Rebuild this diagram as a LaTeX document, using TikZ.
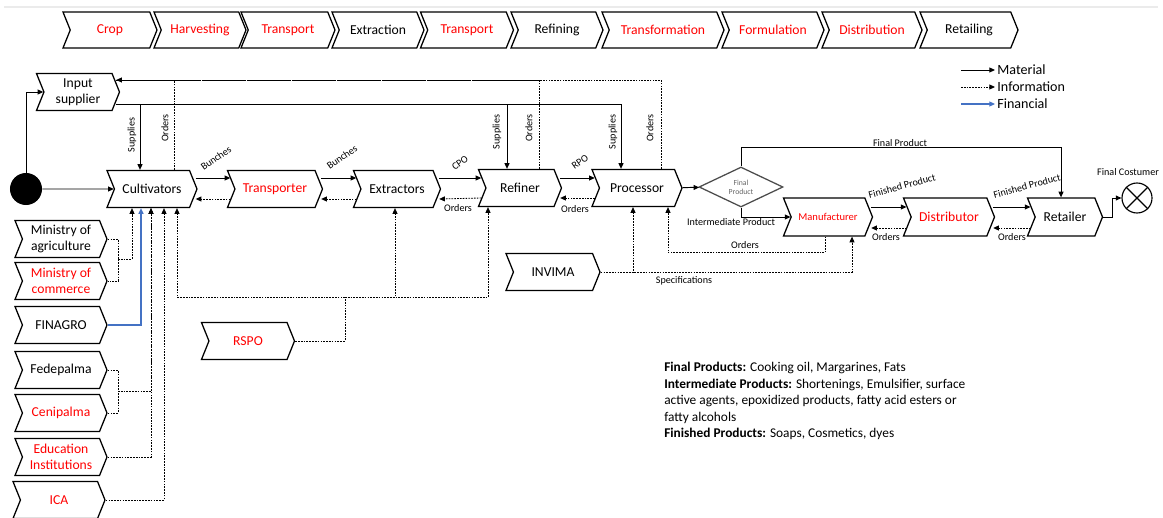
\documentclass[tikz,border=0pt]{standalone}
\usepackage{fontspec}
\setmainfont{Carlito}
\usepackage{xcolor}
\usepackage{tikz}
\usetikzlibrary{shapes.symbols,shapes.geometric,arrows.meta,calc}
\definecolor{finblue}{RGB}{68,114,196}
\tikzset{chev/.style={signal,draw,signal from=west,signal to=east,signal pointer angle=136,line width=0.9pt,minimum height=0.925cm,inner sep=1pt,font=\fontsize{9.7}{11}\selectfont,align=center},
			lbl/.style={font=\fontsize{7.2}{8}\selectfont,inner sep=0.5pt},
			mat/.style={-{Triangle[length=4pt,width=3.5pt]},line width=0.7pt},
			info/.style={-{Triangle[length=4pt,width=3.5pt]},line width=0.6pt,dash pattern=on 1.2pt off 0.8pt},
			fin/.style={-{Triangle[length=4pt,width=3.5pt]},line width=0.8pt,finblue},
            }

\begin{document}
\begin{tikzpicture}[x=0.025cm,y=-0.025cm]
					\useasboundingbox (0,0) rectangle (1163,518);
					\draw[black!8,line width=1.2pt] (4,7) -- (1158,7);
					
					\node[chev,minimum width=2.35cm,minimum height=0.9cm,text=red] (S1) at (110,30) {Crop};
					\node[chev,minimum width=2.3cm,minimum height=0.9cm,text=red] (S2) at (200,30) {Harvesting};
					\node[chev,minimum width=2.35cm,minimum height=0.9cm,text=red] (S3) at (288,30) {Transport};
					\node[chev,minimum width=2.3cm,minimum height=0.9cm] (S4) at (378,30) {Extraction};
					\node[chev,minimum width=2.325cm,minimum height=0.9cm,text=red] (S5) at (467,30) {Transport};
					\node[chev,minimum width=2.3cm,minimum height=0.9cm] (S6) at (557,30) {Refining};
					\node[chev,minimum width=3.05cm,minimum height=0.9cm,text=red] (S7) at (663,30) {Transformation};
					\node[chev,minimum width=2.55cm,minimum height=0.9cm,text=red] (S8) at (773,30) {Formulation};
					\node[chev,minimum width=2.5cm,minimum height=0.9cm,text=red] (S9) at (872,30) {Distribution};
					\node[chev,minimum width=2.45cm,minimum height=0.9cm] (S10) at (969,30) {Retailing};
					
					\node[circle,fill=black,minimum size=0.8cm] (St) at (26,189) {};
					\node[chev,minimum width=2.075cm] (Inp) at (78,92) {Input\\supplier};
					\node[chev,minimum width=2.25cm] (Cult) at (152,189) {Cultivators};
					\node[chev,minimum width=2.375cm,text=red] (Trans) at (275,189) {Transporter};
					\node[chev,minimum width=2.175cm] (Extr) at (397,189) {Extractors};
					\node[chev,minimum width=2.075cm] (Ref) at (520,188) {Refiner};
					\node[chev,minimum width=2.25cm] (Proc) at (637,188) {Processor};
					\node[diamond,draw=black!70,line width=0.9pt,minimum width=2.1cm,minimum height=1cm,inner sep=0pt,text=black!60,font=\fontsize{5.5}{6.5}\selectfont,align=center] (FP) at (741,187) {Final\\Product};
					\node[chev,minimum width=2.225cm,minimum height=0.95cm,text=red,font=\fontsize{7.5}{8}\selectfont] (Man) at (828,217) {Manufacturer};
					\node[chev,minimum width=2.275cm,minimum height=0.95cm,text=red] (Dist) at (949,217) {Distributor};
					\node[chev,minimum width=1.875cm,minimum height=0.95cm] (Ret) at (1065,217) {Retailer};
					\node[circle,draw,line width=0.8pt,minimum size=0.75cm] (FC) at (1137,198) {};
					\draw[line width=0.8pt] (FC.45) -- (FC.225) (FC.135) -- (FC.315);
					\node[lbl] (FCl) at (1128,172) {Final Costumer};
					
					\node[chev,minimum width=2.3cm] (MA) at (61,239) {Ministry of\\agriculture};
					\node[chev,minimum width=2.3cm,text=red] (MC) at (61,281) {Ministry of\\commerce};
					\node[chev,minimum width=2.3cm] (FIN) at (61,325) {FINAGRO};
					\node[chev,minimum width=2.3cm] (FED) at (61,370) {Fedepalma};
					\node[chev,minimum width=2.3cm,text=red] (CEN) at (61,413) {Cenipalma};
					\node[chev,minimum width=2.3cm,text=red] (EDU) at (61,457) {Education\\Institutions};
					\node[chev,minimum width=2.3cm,text=red] (ICA) at (59,500) {ICA};
					\node[chev,minimum width=2.325cm,text=red] (RSPO) at (248,341) {RSPO};
					\node[chev,minimum width=2.35cm] (INV) at (553,272) {INVIMA};
					
					\coordinate (K1) at ($(Inp.east)+(-4,12)$);
					\coordinate (K2) at ($(Inp.east)+(-4,-12)$);
					\coordinate (K3) at (345,297);
					\coordinate (K4) at (118,259);
					\coordinate (K5) at (118,391);
					
					\draw[mat] (St) |- (Inp);
					\draw[mat] (St) -- (Cult);
					\draw[mat] (K1) -| ($(Cult.north)+(-12,0)$);
					\draw[mat] (K1) -| ($(Ref.north)+(-13,0)$);
					\draw[mat] (K1) -| ($(Proc.north)+(-16,0)$);
					\draw[info] ($(Proc.north)+(24,0)$) |- (K2);
					\draw[info,-] ($(Cult.north)+(22,0)$) |- (K2);
					\draw[info,-] ($(Ref.north)+(19,0)$) |- (K2);
					\node[lbl,rotate=90] (l1) at (132,135) {Supplies};
					\node[lbl,rotate=90] (l2) at (165,128) {Orders};
					\node[lbl,rotate=90] (l3) at (497,132) {Supplies};
					\node[lbl,rotate=90] (l4) at (529,128) {Orders};
					\node[lbl,rotate=90] (l5) at (613,132) {Supplies};
					\node[lbl,rotate=90] (l6) at (650,128) {Orders};
					
					\draw[mat] ($(Cult.east)+(-2,-11)$) -- ($(Trans.west)+(-4,-11)$);
					\draw[info] ($(Trans.west)+(-4,10)$) -- ($(Cult.east)+(-2,10)$);
					\draw[mat] ($(Trans.east)+(-2,-11)$) -- ($(Extr.west)+(-4,-11)$);
					\draw[info] ($(Extr.west)+(-4,10)$) -- ($(Trans.east)+(-2,10)$);
					\draw[mat] ($(Extr.east)+(-2,-11)$) -- ($(Ref.west)+(-4,-10)$);
					\draw[info] ($(Ref.west)+(-4,10)$) -- ($(Extr.east)+(-2,10)$);
					\draw[mat] ($(Ref.east)+(-2,-10)$) -- ($(Proc.west)+(-4,-10)$);
					\draw[info] ($(Proc.west)+(-4,10)$) -- ($(Ref.east)+(-2,10)$);
					\node[lbl,rotate=35] (l7) at (216,158) {Bunches};
					\node[lbl,rotate=35] (l8) at (342,157) {Bunches};
					\node[lbl,rotate=35] (l9) at (460,163) {CPO};
					\node[lbl,rotate=35] (l10) at (580,162) {RPO};
					\node[lbl] (l11) at (458,208) {Orders};
					\node[lbl] (l12) at (575,209) {Orders};
					
					\draw[mat] (Proc) -- (FP);
					\draw[mat] (FP.north) -- ++(0,-19) -| ($(Ret.north)+(-4,0)$);
					\node[lbl] (l13) at (900,143) {Final Product};
					\draw[mat] (FP.south) |- (Man.west);
					\node[lbl] (l14) at (731,222) {Intermediate Product};
					\draw[mat] ($(Man.east)+(-2,-10)$) -- ($(Dist.west)+(-4,-10)$);
					\draw[info] ($(Dist.west)+(-4,11)$) -- ($(Man.east)+(-2,11)$);
					\draw[mat] ($(Dist.east)+(-2,-10)$) -- ($(Ret.west)+(-4,-10)$);
					\draw[info] ($(Ret.west)+(-4,11)$) -- ($(Dist.east)+(-2,11)$);
					\node[lbl,rotate=15] (l15) at (902,186) {Finished Product};
					\node[lbl,rotate=15] (l16) at (1027,186) {Finished Product};
					\node[lbl] (l17) at (886,237) {Orders};
					\node[lbl] (l18) at (1012,237) {Orders};
					\draw[mat] (Ret.east) -- ++(9,0) |- (FC);
					
					\draw[info] ($(Man.south)+(-3,0)$) -- ++(0,16) -| ($(Proc.south)+(31,0)$);
					\node[lbl] (l19) at (745,245) {Orders};
					\draw[info] (INV.east) -| ($(Man.south)+(24,0)$);
					\draw[info] (INV.east) -| ($(Proc.south)+(-4,0)$);
					\node[lbl] (l20) at (684,281) {Specifications};
					
					\draw[info,-] (RSPO.east) -| (K3);
					\draw[info] (K3) -| ($(Cult.south)+(25,0)$);
					\draw[info] (K3) -| ($(Extr.south)+(-2,0)$);
					\draw[info] (K3) -| ($(Ref.south)+(-32,0)$);
					
					\draw[info,-] (MA.east) -| (K4) |- (MC.east);
					\draw[info] (K4) -| ($(Cult.south)+(-20,0)$);
					\draw[fin] (FIN.east) -| ($(Cult.south)+(-11,0)$);
					\draw[info,-] (FED.east) -| (K5) |- (CEN.east);
					\draw[info] (K5) -| ($(Cult.south)+(-1,0)$);
					\draw[info] (EDU.east) -| ($(Cult.south)+(-1,0)$);
					\draw[info] (ICA.east) -| ($(Cult.south)+(12,0)$);
					
					\node[anchor=west,inner sep=1.5pt,font=\fontsize{10}{11}\selectfont] (L1) at (995,70) {Material};
					\node[anchor=west,inner sep=1.5pt,font=\fontsize{10}{11}\selectfont] (L2) at (995,87) {Information};
					\node[anchor=west,inner sep=1.5pt,font=\fontsize{10}{11}\selectfont] (L3) at (995,104) {Financial};
					\draw[mat] ($(L1.west)+(-34,0)$) -- (L1.west);
					\draw[info] ($(L2.west)+(-34,0)$) -- (L2.west);
					\draw[fin] ($(L3.west)+(-34,0)$) -- (L3.west);
					
					\node[anchor=north west,align=left,inner sep=0pt,font=\fontsize{9.5}{11.7}\selectfont] (Txt) at (664,362) {\textbf{Final Products:} Cooking oil, Margarines, Fats\\\textbf{Intermediate Products:} Shortenings, Emulsifier, surface\\active agents, epoxidized products, fatty acid esters or\\fatty alcohols\\\textbf{Finished Products:} Soaps, Cosmetics, dyes};
				\end{tikzpicture}
\end{document}
